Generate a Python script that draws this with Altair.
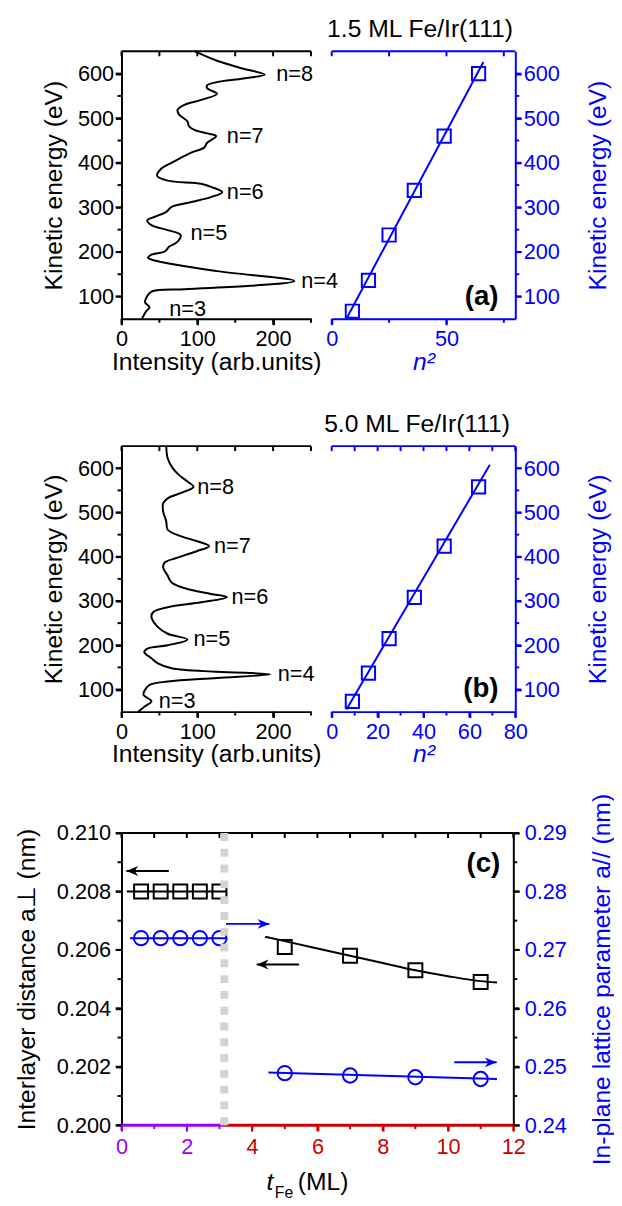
import altair as alt
import pandas as pd

FONT = "Liberation Sans"
BLUE = "#0000ff"
PURPLE = "#9900ff"
RED = "#cc0000"
GREY = "#d3d3d3"

# frame geometry (pixels inside the plotting frame)
W = 399
H_TOTAL = 1088
LEFT_W = 192
RIGHT_X0 = 213
C_W = 397

# ---------------- (a) 1.5 ML Fe/Ir(111) ----------------
a_energy = [650, 629, 611, 598, 589, 581, 574, 567, 555, 541, 530, 519, 508, 493, 482,
            474, 466, 460, 445, 434, 423, 400, 386, 371, 360, 353, 345, 334, 323, 312,
            301, 290, 279, 271, 260, 249, 238, 223, 212, 201, 194, 187, 179, 157, 135,
            124, 116.5, 111, 98, 87, 76, 68, 57, 50]
a_intensity = [97, 126, 161, 189, 161, 126, 113, 113, 126, 105, 83, 74, 76, 87, 89,
               96, 113, 125, 113, 109, 92, 66, 52, 47, 61, 105, 120, 133, 118, 92,
               66, 59, 44, 34, 39.5, 61, 78, 74, 63, 57, 39.5, 35, 48, 126, 228,
               170, 83, 39.5, 33, 31, 37, 33, 29, 27]
label_text = ["n=8", "n=7", "n=6", "n=5", "n=4", "n=3"]
a_label_energy = [598, 460, 334, 242, 135, 72]
a_label_intensity = [204, 139, 139, 91, 237, 63]
n_squared = [9, 16, 25, 36, 49, 64]
a_peak_energy = [67, 136, 238, 338, 460, 600]
a_fit_n2 = [6.8, 66.1]
a_fit_energy = [54, 626]

# ---------------- (b) 5.0 ML Fe/Ir(111) ----------------
b_energy = [650, 622, 599, 584.5, 570, 558, 547, 532, 521, 502, 480, 461, 446, 435, 424,
            413, 398, 387, 375.5, 357, 342, 327, 316, 308.5, 297, 286, 275, 264, 241, 226,
            213, 200, 193, 185, 170.5, 159, 148, 140, 134.5, 126, 118, 110.5, 99, 88, 73.5,
            62, 50]
b_intensity = [59, 61, 68, 76, 87, 95, 83, 61, 55, 55, 59, 61, 79, 100, 115.5,
               100, 74, 57, 55, 61, 66, 87, 118, 139, 105, 61, 42, 39.5, 48, 61,
               87, 61, 35, 30, 39.5, 48, 66, 126, 196, 126, 61, 37, 31, 29, 39.5,
               31, 22]
b_label_energy = [558, 424, 308, 214, 134, 73]
b_label_intensity = [100, 122, 145, 95, 206, 49]
b_peak_energy = [73, 137, 215, 308, 424, 558]
b_fit_n2 = [6.4, 68.9]
b_fit_energy = [55, 608]

# ---------------- (c) lattice parameters vs thickness ----------------
t_before = [0.6, 1.2, 1.8, 2.4, 3.0]
aperp_before = [0.208, 0.208, 0.208, 0.208, 0.208]
apar_before = [0.272, 0.272, 0.272, 0.272, 0.272]
t_after = [5, 7, 9, 11]
aperp_after = [0.2061, 0.2058, 0.2053, 0.2049]
apar_after = [0.2489, 0.2485, 0.2482, 0.2479]
aperp_fit_t = [4.4, 5, 6, 7, 8, 9, 10, 11, 11.5]
aperp_fit = [0.20645, 0.2063, 0.20605, 0.2058, 0.20555, 0.2053, 0.2051, 0.20493, 0.20488]
apar_fit_t = [4.5, 11.5]
apar_fit = [0.2490, 0.2479]
aperp_guide_t = [0.16, 3.23]
aperp_guide = [0.208, 0.208]
apar_guide_t = [0.26, 3.23]
apar_guide = [0.272, 0.272]
boundary_t = [3.15]
axis_seg_start = [0, 3.15]
axis_seg_end = [3.15, 12]
axis_seg_color = [PURPLE, RED]
arrow_start = [0.15, 3.2, 4.14, 10.19]
arrow_end = [1.45, 4.53, 5.44, 11.49]
arrow_level = [0.2087, 0.20689, 0.2055, 0.20215]
arrow_color = ["black", BLUE, "black", BLUE]
left_head_t = [0.15, 4.14]
left_head_v = [0.2087, 0.2055]
right_head_t = [4.53, 11.49]
right_head_v = [0.20689, 0.20215]

# tick values (major = labelled, minor = tick only)
int_major = [0, 100, 200]
int_minor = [50, 150, 250]
int_all = [0, 50, 100, 150, 200, 250]
ke_major = [100, 200, 300, 400, 500, 600]
ke_minor = [150, 250, 350, 450, 550]
a_n2_major = [0, 50]
a_n2_minor = [25, 75]
a_n2_all = [0, 25, 50, 75]
b_n2_major = [0, 20, 40, 60, 80]
b_n2_minor = [10, 30, 50, 70]
b_n2_all = [0, 10, 20, 30, 40, 50, 60, 70, 80]
t_major_purple = [0, 2]
t_minor_purple = [1, 3]
t_major_red = [4, 6, 8, 10, 12]
t_minor_red = [5, 7, 9, 11]
t_all = [0, 1, 2, 3, 4, 5, 6, 7, 8, 9, 10, 11, 12]
perp_major = [0.200, 0.202, 0.204, 0.206, 0.208, 0.210]
perp_minor = [0.201, 0.203, 0.205, 0.207, 0.209]
par_major = [0.24, 0.25, 0.26, 0.27, 0.28, 0.29]
par_minor = [0.245, 0.255, 0.265, 0.275, 0.285]

LEFT_HEAD = "M0,0L1,-0.42L0.7,0L1,0.42Z"
RIGHT_HEAD = "M0,0L-1,-0.42L-0.7,0L-1,0.42Z"
TICK_DOWN = "M0,0L0,1"
TICK_LEFT = "M0,0L-1,0"
TICK_RIGHT = "M0,0L1,0"
HBAR = "M-1,0L1,0"

MAJOR_TICK = 6   # px
MINOR_TICK = 4   # px
INNER_TICK = 5   # px


def sc(domain, rng):
    return alt.Scale(domain=domain, range=rng, nice=False, zero=False)


def txt(text, x, y, size, align="left", weight="normal", style="normal", color="black"):
    return alt.Chart(pd.DataFrame({"t": [text]})).mark_text(
        align=align, baseline="alphabetic", fontSize=size, font=FONT,
        fontWeight=weight, fontStyle=style, color=color
    ).encode(x=alt.value(x), y=alt.value(y), text="t:N")


def tick_glyphs(xs_, ys_, values, edge, length, shape, along_x, color="black"):
    """Tick marks drawn as open stroke symbols anchored on a frame edge."""
    if along_x:
        df = pd.DataFrame({"t": [float(v) for v in values], "v": [float(edge)] * len(values)})
    else:
        df = pd.DataFrame({"t": [float(edge)] * len(values), "v": [float(v) for v in values]})
    return alt.Chart(df).mark_point(shape=shape, size=(2 * length) ** 2, filled=False,
                                    strokeWidth=2, color=color, opacity=1).encode(
        x=alt.X("t:Q", scale=xs_, axis=None), y=alt.Y("v:Q", scale=ys_, axis=None))


def edge_bar(xs_, ys_, mid, y, width_px, color="black"):
    """Top frame edge drawn as a long horizontal stroke symbol centred on the edge."""
    df = pd.DataFrame({"t": [float(mid)], "v": [float(y)]})
    return alt.Chart(df).mark_point(shape=HBAR, size=width_px ** 2, filled=False,
                                    strokeWidth=2, color=color, opacity=1).encode(
        x=alt.X("t:Q", scale=xs_, axis=None), y=alt.Y("v:Q", scale=ys_, axis=None))


def spectrum_panel(energy, intensity, lab_e, lab_i, peak_e, fit_n2, fit_e,
                   n2_max, n2_major, n2_minor, n2_all, y0, h, head, head_x, tag):
    yb = y0 + h
    y_sc = sc([50, 650], [yb, y0])
    xl = sc([0, 250], [0, LEFT_W])
    xr = sc([0, n2_max], [RIGHT_X0, W])
    off_b = yb - H_TOTAL
    spec_df = pd.DataFrame({"I": intensity, "E": energy, "k": list(range(len(energy)))})
    lab_df = pd.DataFrame({"I": lab_i, "E": lab_e, "t": label_text})
    pk_df = pd.DataFrame({"n2": n_squared, "E": peak_e})
    fit_df = pd.DataFrame({"n2": fit_n2, "E": fit_e})
    blue_ax = dict(domainColor=BLUE, labelColor=BLUE, titleColor=BLUE, tickColor=BLUE)
    out = []
    out.append(alt.Chart(spec_df).mark_line(color="black", strokeWidth=2, interpolate="catmull-rom").encode(
        x=alt.X("I:Q", scale=xl, axis=alt.Axis(orient="bottom", offset=off_b, values=int_major,
                                               title="Intensity (arb.units)", ticks=True,
                                               tickSize=MAJOR_TICK, tickWidth=2,
                                               labelPadding=4, titlePadding=0)),
        y=alt.Y("E:Q", scale=y_sc, axis=alt.Axis(orient="left", values=ke_major,
                                                 title="Kinetic energy (eV)", ticks=True,
                                                 tickSize=MAJOR_TICK, tickWidth=2,
                                                 labelPadding=2, titlePadding=11)),
        order=alt.Order("k:Q")))
    # frame of the spectrum panel
    out.append(edge_bar(xl, y_sc, 125, 650, LEFT_W))
    out.append(tick_glyphs(xl, y_sc, int_major, 50, MAJOR_TICK, TICK_DOWN, True))
    out.append(tick_glyphs(xl, y_sc, int_minor, 50, MINOR_TICK, TICK_DOWN, True))
    out.append(tick_glyphs(xl, y_sc, int_all, 650, INNER_TICK, TICK_DOWN, True))
    out.append(tick_glyphs(xl, y_sc, ke_major, 0, MAJOR_TICK, TICK_LEFT, False))
    out.append(tick_glyphs(xl, y_sc, ke_minor, 0, MINOR_TICK, TICK_LEFT, False))
    out.append(alt.Chart(lab_df).mark_text(align="left", baseline="middle", fontSize=22, font=FONT,
                                           color="black").encode(
        x=alt.X("I:Q", scale=xl, axis=None), y=alt.Y("E:Q", scale=y_sc, axis=None), text="t:N"))
    out.append(alt.Chart(fit_df).mark_line(color=BLUE, strokeWidth=2).encode(
        x=alt.X("n2:Q", scale=xr, axis=alt.Axis(orient="bottom", offset=off_b, values=n2_major,
                                                title="n²", titleFontStyle="italic", ticks=True,
                                                tickSize=MAJOR_TICK, tickWidth=2,
                                                labelPadding=4, titlePadding=0, **blue_ax)),
        y=alt.Y("E:Q", scale=y_sc, axis=alt.Axis(orient="right", values=ke_major,
                                                 title="Kinetic energy (eV)", titleAngle=270,
                                                 titleBaseline="top", ticks=True,
                                                 tickSize=MAJOR_TICK, tickWidth=2,
                                                 labelPadding=2, titlePadding=27, **blue_ax))))
    # frame of the n^2 panel
    out.append(edge_bar(xr, y_sc, n2_max / 2, 650, W - RIGHT_X0, color=BLUE))
    out.append(tick_glyphs(xr, y_sc, n2_major, 50, MAJOR_TICK, TICK_DOWN, True, color=BLUE))
    out.append(tick_glyphs(xr, y_sc, n2_minor, 50, MINOR_TICK, TICK_DOWN, True, color=BLUE))
    out.append(tick_glyphs(xr, y_sc, n2_all, 650, INNER_TICK, TICK_DOWN, True, color=BLUE))
    out.append(tick_glyphs(xr, y_sc, ke_major, n2_max, MAJOR_TICK, TICK_RIGHT, False, color=BLUE))
    out.append(tick_glyphs(xr, y_sc, ke_minor, n2_max, MINOR_TICK, TICK_RIGHT, False, color=BLUE))
    out.append(alt.Chart(pk_df).mark_point(shape="square", size=180, filled=False, color=BLUE,
                                           strokeWidth=2, opacity=1).encode(
        x=alt.X("n2:Q", scale=xr, axis=None), y=alt.Y("E:Q", scale=y_sc, axis=None)))
    out.append(txt(head, head_x, y0 - 14.5, 25, align="center"))
    out.append(txt(tag, 382, yb - 14.5, 28, align="right", weight="bold"))
    return out


layers = []
layers += spectrum_panel(a_energy, a_intensity, a_label_energy, a_label_intensity, a_peak_energy,
                         a_fit_n2, a_fit_energy, 80, a_n2_major, a_n2_minor, a_n2_all, 0, 271,
                         "1.5 ML Fe/Ir(111)", 302.5, "(a)")
layers += spectrum_panel(b_energy, b_intensity, b_label_energy, b_label_intensity, b_peak_energy,
                         b_fit_n2, b_fit_energy, 80, b_n2_major, b_n2_minor, b_n2_all, 400, 269,
                         "5.0 ML Fe/Ir(111)", 299.5, "(b)")

# ---------------- panel (c) ----------------
c_y0 = 792
c_h = 296
xc = sc([0, 12], [0, C_W])
yl = sc([0.200, 0.210], [c_y0 + c_h, c_y0])
yr = sc([0.24, 0.29], [c_y0 + c_h, c_y0])

g_perp = pd.DataFrame({"t": aperp_guide_t, "v": aperp_guide})
# purple part of the thickness axis (labels 0, 2) lives on this layer
layers.append(alt.Chart(g_perp).mark_line(color="black", strokeWidth=2).encode(
    x=alt.X("t:Q", scale=xc, axis=alt.Axis(orient="bottom", values=t_major_purple,
                                           labelColor=PURPLE, tickColor=PURPLE, domain=False,
                                           ticks=True, tickSize=MAJOR_TICK, tickWidth=2,
                                           title="", labelPadding=6)),
    y=alt.Y("v:Q", scale=yl, axis=alt.Axis(orient="left", values=perp_major, format=".3f",
                                           ticks=True, tickSize=MAJOR_TICK, tickWidth=2,
                                           title="Interlayer distance a⊥ (nm)", labelPadding=5,
                                           titlePadding=17))))
# red part of the thickness axis (labels 4 ... 12)
layers.append(alt.Chart(pd.DataFrame({"t": t_major_red})).mark_point(opacity=0).encode(
    x=alt.X("t:Q", scale=xc, axis=alt.Axis(orient="bottom", values=t_major_red,
                                           labelColor=RED, tickColor=RED, domain=False,
                                           ticks=True, tickSize=MAJOR_TICK, tickWidth=2,
                                           title="", labelPadding=6))))
layers.append(alt.Chart(pd.DataFrame({"t": t_before, "v": aperp_before})).mark_point(
    shape="square", size=200, filled=False, color="black", strokeWidth=2, opacity=1).encode(
    x=alt.X("t:Q", scale=xc, axis=None), y=alt.Y("v:Q", scale=yl, axis=None)))

g_par = pd.DataFrame({"t": apar_guide_t, "v": apar_guide})
layers.append(alt.Chart(g_par).mark_line(color=BLUE, strokeWidth=2).encode(
    x=alt.X("t:Q", scale=xc, axis=None),
    y=alt.Y("v:Q", scale=yr, axis=alt.Axis(orient="right", offset=-2, values=par_major, format=".2f",
                                           labelColor=BLUE, titleColor=BLUE, ticks=True,
                                           tickSize=MAJOR_TICK, tickWidth=2,
                                           title="In-plane lattice parameter a// (nm)",
                                           titleAngle=270, titleBaseline="top", labelPadding=5,
                                           titlePadding=24))))
layers.append(alt.Chart(pd.DataFrame({"t": t_before, "v": apar_before})).mark_point(
    shape="circle", size=210, filled=False, color=BLUE, strokeWidth=2, opacity=1).encode(
    x=alt.X("t:Q", scale=xc, axis=None), y=alt.Y("v:Q", scale=yr, axis=None)))

layers.append(alt.Chart(pd.DataFrame({"t": aperp_fit_t, "v": aperp_fit})).mark_line(
    color="black", strokeWidth=2, interpolate="monotone").encode(
    x=alt.X("t:Q", scale=xc, axis=None), y=alt.Y("v:Q", scale=yl, axis=None)))
layers.append(alt.Chart(pd.DataFrame({"t": t_after, "v": aperp_after})).mark_point(
    shape="square", size=200, filled=False, color="black", strokeWidth=2, opacity=1).encode(
    x=alt.X("t:Q", scale=xc, axis=None), y=alt.Y("v:Q", scale=yl, axis=None)))
layers.append(alt.Chart(pd.DataFrame({"t": apar_fit_t, "v": apar_fit})).mark_line(
    color=BLUE, strokeWidth=2).encode(
    x=alt.X("t:Q", scale=xc, axis=None), y=alt.Y("v:Q", scale=yr, axis=None)))
layers.append(alt.Chart(pd.DataFrame({"t": t_after, "v": apar_after})).mark_point(
    shape="circle", size=210, filled=False, color=BLUE, strokeWidth=2, opacity=1).encode(
    x=alt.X("t:Q", scale=xc, axis=None), y=alt.Y("v:Q", scale=yr, axis=None)))

# frame of (c): top edge and ticks on all four sides
layers.append(edge_bar(xc, yl, 6, 0.210, C_W))
layers.append(tick_glyphs(xc, yl, t_all, 0.210, INNER_TICK, TICK_DOWN, True))
layers.append(tick_glyphs(xc, yl, t_major_purple, 0.200, MAJOR_TICK, TICK_DOWN, True, color=PURPLE))
layers.append(tick_glyphs(xc, yl, t_minor_purple, 0.200, MINOR_TICK, TICK_DOWN, True, color=PURPLE))
layers.append(tick_glyphs(xc, yl, t_major_red, 0.200, MAJOR_TICK, TICK_DOWN, True, color=RED))
layers.append(tick_glyphs(xc, yl, t_minor_red, 0.200, MINOR_TICK, TICK_DOWN, True, color=RED))
layers.append(tick_glyphs(xc, yl, perp_major, 0, MAJOR_TICK, TICK_LEFT, False))
layers.append(tick_glyphs(xc, yl, perp_minor, 0, MINOR_TICK, TICK_LEFT, False))
layers.append(tick_glyphs(xc, yr, par_major, 12, MAJOR_TICK, TICK_RIGHT, False))
layers.append(tick_glyphs(xc, yr, par_minor, 12, MINOR_TICK, TICK_RIGHT, False))

# coloured x-axis line
seg_df = pd.DataFrame({"t0": axis_seg_start, "t1": axis_seg_end, "v": [0.200, 0.200],
                       "c": axis_seg_color})
layers.append(alt.Chart(seg_df).mark_rule(strokeWidth=3).encode(
    x=alt.X("t0:Q", scale=xc, axis=None), x2="t1:Q",
    y=alt.Y("v:Q", scale=yl, axis=None), color=alt.Color("c:N", scale=None)))

# grey dotted boundary
layers.append(alt.Chart(pd.DataFrame({"t": boundary_t, "v0": [0.200], "v1": [0.210]})).mark_rule(
    color=GREY, strokeWidth=8, strokeDash=[8, 8]).encode(
    x=alt.X("t:Q", scale=xc, axis=None), y=alt.Y("v0:Q", scale=yl, axis=None), y2="v1:Q"))

# arrows
arr_df = pd.DataFrame({"t0": arrow_start, "t1": arrow_end, "v": arrow_level, "c": arrow_color})
layers.append(alt.Chart(arr_df).mark_rule(strokeWidth=2).encode(
    x=alt.X("t0:Q", scale=xc, axis=None), x2="t1:Q",
    y=alt.Y("v:Q", scale=yl, axis=None), color=alt.Color("c:N", scale=None)))
layers.append(alt.Chart(pd.DataFrame({"t": left_head_t, "v": left_head_v})).mark_point(
    shape=LEFT_HEAD, size=576, filled=True, color="black", opacity=1).encode(
    x=alt.X("t:Q", scale=xc, axis=None), y=alt.Y("v:Q", scale=yl, axis=None)))
layers.append(alt.Chart(pd.DataFrame({"t": right_head_t, "v": right_head_v})).mark_point(
    shape=RIGHT_HEAD, size=576, filled=True, color=BLUE, opacity=1).encode(
    x=alt.X("t:Q", scale=xc, axis=None), y=alt.Y("v:Q", scale=yl, axis=None)))

# texts of (c)
layers.append(txt("(c)", 383.7, 831.6, 28, align="right", weight="bold"))
layers.append(txt("t", 147, 1154, 25, style="italic"))
layers.append(txt("Fe", 155.3, 1161.5, 16))
layers.append(txt("(ML)", 178.7, 1154, 25))

chart = alt.layer(*layers).resolve_scale(x="independent", y="independent").properties(
    width=W, height=H_TOTAL,
    autosize=alt.AutoSizeParams(type="none"),
    padding={"left": 115, "top": 36, "right": 100, "bottom": 75},
).configure(font=FONT).configure_axis(
    grid=False, labelFlush=False, labelOverlap=False, domainWidth=2,
    domainColor="black", labelColor="black", titleColor="black", tickColor="black",
    labelFont=FONT, labelFontSize=22, titleFont=FONT, titleFontSize=25, titleFontWeight="normal",
).configure_view(stroke="transparent")

chart.save("out.html", embed_options={"renderer": "svg", "actions": False})
